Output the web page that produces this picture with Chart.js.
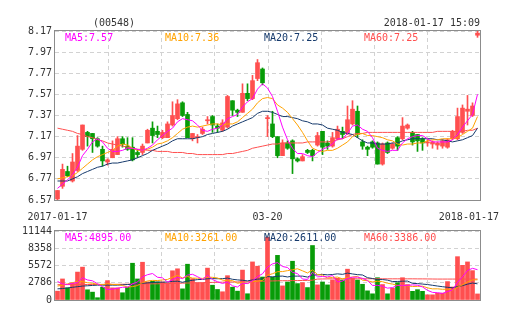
<!DOCTYPE html>
<html>
<head>
<meta charset="utf-8">
<script src="https://cdn.jsdelivr.net/npm/chart.js@4.4.1/dist/chart.umd.min.js"></script>
<style>
  html, body { margin: 0; padding: 0; background: #fff; }
  #wrap { position: relative; width: 505px; height: 330px; }
  canvas { position: absolute; left: 0; }
  #kline { top: 0; }
  #vol { top: 222px; }
</style>
</head>
<body>
<div id="wrap">
  <canvas id="kline" width="505" height="222"></canvas>
  <canvas id="vol" width="505" height="108"></canvas>
</div>
<script>
const stockCode = "(00548)";
const stampText = "2018-01-17 15:09";
const dateTicks = ["2017-01-17", "03-20", "2018-01-17"];
const dateTickIndex = [0, 42, 84];
const priceTicks = [6.57, 6.77, 6.97, 7.17, 7.37, 7.57, 7.77, 7.97, 8.17];
const volTicks = [0, 2786, 5572, 8358, 11144];

const opens = [
  6.58, 6.70, 6.84, 6.75, 6.85, 7.05, 7.21, 7.20, 7.15, 7.05,
  6.93, 6.97, 7.00, 7.15, 7.08, 7.07, 7.02, 7.02, 7.11, 7.25,
  7.22, 7.16, 7.16, 7.28, 7.34, 7.49, 7.38, 7.15, 7.16, 7.20,
  7.32, 7.36, 7.27, 7.23, 7.26, 7.51, 7.42, 7.40, 7.58, 7.53,
  7.72, 7.81, 7.34, 7.29, 7.17, 6.99, 7.11, 7.13, 6.96, 6.94,
  7.04, 7.04, 7.09, 7.22, 7.11, 7.08, 7.15, 7.22, 7.20, 7.29,
  7.41, 7.12, 7.07, 7.12, 7.11, 6.91, 7.11, 7.06, 7.16, 7.15,
  7.25, 7.21, 7.19, 7.15, 7.11, 7.10, 7.09, 7.08, 7.07, 7.15,
  7.15, 7.21, 7.41, 7.37, 8.13
];
const highs = [
  6.66, 6.91, 6.89, 7.01, 7.18, 7.28, 7.22, 7.20, 7.16, 7.08,
  6.96, 7.13, 7.17, 7.17, 7.16, 7.16, 7.05, 7.10, 7.24, 7.31,
  7.27, 7.23, 7.31, 7.50, 7.52, 7.50, 7.40, 7.20, 7.19, 7.26,
  7.36, 7.37, 7.29, 7.33, 7.56, 7.51, 7.43, 7.67, 7.67, 7.75,
  7.90, 7.82, 7.37, 7.41, 7.17, 7.14, 7.13, 7.14, 6.97, 7.00,
  7.05, 7.05, 7.21, 7.22, 7.13, 7.21, 7.27, 7.26, 7.46, 7.51,
  7.46, 7.14, 7.08, 7.13, 7.12, 7.11, 7.12, 7.11, 7.17, 7.35,
  7.29, 7.22, 7.19, 7.16, 7.14, 7.13, 7.12, 7.14, 7.15, 7.23,
  7.44, 7.47, 7.56, 7.49, 8.17
];
const lows = [
  6.57, 6.68, 6.79, 6.74, 6.84, 7.04, 7.08, 7.02, 7.07, 6.89,
  6.90, 6.97, 7.00, 7.07, 7.04, 6.94, 6.97, 7.00, 7.11, 7.11,
  7.16, 7.15, 7.16, 7.27, 7.33, 7.36, 7.16, 7.13, 7.11, 7.19,
  7.29, 7.21, 7.21, 7.22, 7.25, 7.37, 7.36, 7.40, 7.51, 7.52,
  7.70, 7.66, 7.17, 7.16, 6.97, 6.99, 7.05, 6.82, 6.93, 6.94,
  7.01, 6.94, 7.08, 7.00, 7.05, 7.07, 7.14, 7.15, 7.19, 7.28,
  7.16, 7.05, 6.99, 7.06, 6.91, 6.90, 7.01, 7.05, 7.04, 7.14,
  7.24, 7.09, 7.03, 7.04, 7.08, 7.06, 7.05, 7.06, 7.06, 7.14,
  7.14, 7.20, 7.28, 7.36, 8.11
];
const closes = [
  6.66, 6.86, 6.80, 6.93, 7.08, 7.28, 7.17, 7.15, 7.08, 6.94,
  6.95, 7.05, 7.15, 7.10, 7.05, 6.95, 7.00, 7.08, 7.23, 7.18,
  7.19, 7.21, 7.29, 7.37, 7.48, 7.37, 7.16, 7.20, 7.17, 7.24,
  7.33, 7.28, 7.25, 7.30, 7.55, 7.42, 7.40, 7.58, 7.53, 7.70,
  7.87, 7.68, 7.35, 7.17, 6.99, 7.11, 7.06, 6.96, 6.94, 6.98,
  7.02, 6.99, 7.18, 7.07, 7.08, 7.16, 7.24, 7.19, 7.33, 7.43,
  7.19, 7.08, 7.05, 7.07, 6.91, 7.10, 7.02, 7.10, 7.08, 7.27,
  7.28, 7.12, 7.13, 7.11, 7.12, 7.12, 7.11, 7.13, 7.14, 7.22,
  7.36, 7.44, 7.43, 7.46, 8.15
];

const ma5 = [
  6.68, 6.72, 6.76, 6.81, 6.88, 6.99, 7.05, 7.12, 7.15, 7.12,
  7.06, 7.03, 7.03, 7.04, 7.06, 7.06, 7.05, 7.04, 7.06, 7.09,
  7.14, 7.18, 7.22, 7.25, 7.31, 7.34, 7.33, 7.32, 7.28, 7.23,
  7.22, 7.24, 7.25, 7.28, 7.34, 7.36, 7.38, 7.45, 7.50, 7.53,
  7.62, 7.67, 7.63, 7.55, 7.41, 7.26, 7.14, 7.06, 7.01, 7.01,
  6.99, 6.98, 7.02, 7.05, 7.07, 7.10, 7.15, 7.15, 7.20, 7.27,
  7.28, 7.24, 7.22, 7.16, 7.06, 7.04, 7.03, 7.04, 7.04, 7.11,
  7.15, 7.17, 7.18, 7.18, 7.15, 7.12, 7.12, 7.12, 7.12, 7.14,
  7.19, 7.26, 7.32, 7.38, 7.57
];
const ma10 = [
  6.77, 6.78, 6.79, 6.80, 6.83, 6.87, 6.91, 6.95, 6.98, 7.00,
  7.02, 7.04, 7.08, 7.10, 7.09, 7.06, 7.04, 7.04, 7.05, 7.07,
  7.10, 7.11, 7.13, 7.16, 7.20, 7.24, 7.26, 7.27, 7.26, 7.27,
  7.28, 7.29, 7.29, 7.28, 7.29, 7.29, 7.31, 7.35, 7.39, 7.43,
  7.49, 7.53, 7.54, 7.53, 7.47, 7.44, 7.40, 7.34, 7.28, 7.21,
  7.13, 7.06, 7.04, 7.03, 7.04, 7.04, 7.06, 7.09, 7.12, 7.17,
  7.19, 7.20, 7.18, 7.18, 7.17, 7.16, 7.14, 7.13, 7.10, 7.09,
  7.10, 7.10, 7.11, 7.11, 7.13, 7.14, 7.14, 7.15, 7.15, 7.15,
  7.16, 7.19, 7.22, 7.25, 7.36
];
const ma20 = [
  6.75, 6.75, 6.75, 6.77, 6.79, 6.82, 6.84, 6.86, 6.88, 6.89,
  6.91, 6.92, 6.92, 6.93, 6.94, 6.95, 6.97, 6.99, 7.01, 7.04,
  7.06, 7.08, 7.10, 7.13, 7.15, 7.15, 7.15, 7.15, 7.16, 7.17,
  7.19, 7.20, 7.21, 7.22, 7.24, 7.27, 7.29, 7.31, 7.33, 7.35,
  7.39, 7.41, 7.41, 7.40, 7.38, 7.36, 7.36, 7.35, 7.34, 7.32,
  7.31, 7.29, 7.29, 7.28, 7.25, 7.24, 7.23, 7.21, 7.20, 7.19,
  7.16, 7.13, 7.11, 7.11, 7.10, 7.10, 7.10, 7.11, 7.11, 7.13,
  7.14, 7.15, 7.15, 7.15, 7.15, 7.15, 7.14, 7.14, 7.13, 7.12,
  7.13, 7.14, 7.16, 7.18, 7.25
];
const ma60 = [
  7.25, 7.24, 7.23, 7.22, 7.20, 7.19, 7.17, 7.16, 7.14, 7.13,
  7.11, 7.10, 7.09, 7.08, 7.07, 7.06, 7.05, 7.05, 7.04, 7.04,
  7.03, 7.03, 7.03, 7.02, 7.02, 7.02, 7.01, 7.01, 7.00, 7.00,
  7.00, 7.00, 7.00, 7.00, 7.01, 7.01, 7.02, 7.03, 7.04, 7.06,
  7.07, 7.08, 7.09, 7.10, 7.10, 7.11, 7.11, 7.11, 7.11, 7.11,
  7.12, 7.12, 7.12, 7.12, 7.12, 7.13, 7.14, 7.15, 7.17, 7.19,
  7.20, 7.20, 7.21, 7.21, 7.21, 7.21, 7.21, 7.21, 7.21, 7.21,
  7.21, 7.21, 7.21, 7.21, 7.21, 7.21, 7.22, 7.22, 7.22, 7.22,
  7.22, 7.22, 7.23, 7.23, 7.25
];

const volumes = [
  1430, 3400, 1960, 2760, 4510, 5310, 1650, 1270, 370, 2070,
  3130, 1960, 1960, 1170, 2070, 5940, 3400, 6100, 2920, 3020,
  2920, 2920, 2760, 4720, 5040, 1800, 5780, 3450, 2760, 2760,
  5150, 2390, 1700, 1330, 3930, 2070, 1430, 4830, 1010, 6150,
  5460, 3710, 10131, 3710, 7210, 2280, 2910, 6260, 2650, 2810,
  2010, 8800, 2440, 2910, 2440, 3230, 3500, 3230, 4980, 3500,
  3230, 2540, 1480, 1000, 3600, 2500, 1000, 1900, 2800, 3600,
  2500, 1400, 1670, 1400, 840, 840, 1110, 1110, 2975, 2100,
  7000, 5600, 6150, 4745, 980
];
const volMa5 = [
  3000, 2600, 2500, 2700, 2812, 3588, 3238, 3100, 2622, 2134,
  1698, 1760, 1898, 2058, 2058, 2620, 2908, 3736, 4086, 4276,
  3672, 3576, 2908, 3268, 3672, 3448, 4020, 4158, 3766, 3310,
  3980, 3302, 2952, 2666, 2900, 2284, 2092, 2718, 2654, 3098,
  3776, 4232, 5292, 5832, 6044, 5408, 5248, 4474, 4262, 3382,
  3328, 4506, 3742, 3794, 3720, 3964, 2904, 3062, 3476, 3688,
  3688, 3496, 3146, 2350, 2370, 2224, 1916, 2000, 2360, 2360,
  2360, 2440, 2394, 2114, 1562, 1230, 1172, 1060, 1375, 1627,
  2859, 3757, 4765, 5119, 4895
];
const volMa10 = [
  2250, 2400, 2600, 2800, 3000, 2950, 2800, 2700, 2550, 2473,
  2643, 2499, 2499, 2340, 2096, 2159, 2334, 2817, 3072, 3167,
  3146, 3242, 3322, 3677, 3974, 3560, 3798, 3533, 3517, 3491,
  3714, 3661, 3555, 3216, 3105, 3132, 2697, 2835, 2660, 2999,
  3030, 3162, 4005, 4243, 4571, 4592, 4740, 4883, 5047, 4713,
  4368, 4877, 4108, 4028, 3551, 3646, 3705, 3402, 3635, 3704,
  3826, 3200, 3104, 2913, 3029, 2956, 2706, 2573, 2355, 2365,
  2292, 2178, 2197, 2237, 1961, 1795, 1806, 1727, 1745, 1595,
  2045, 2465, 2913, 3247, 3261
];
const volMa20 = [
  1800, 1850, 1950, 2050, 2150, 2250, 2300, 2350, 2400, 2400,
  2400, 2400, 2400, 2450, 2500, 2550, 2600, 2700, 2760, 2820,
  2895, 2871, 2911, 3009, 3035, 2860, 3066, 3175, 3295, 3329,
  3430, 3452, 3439, 3447, 3540, 3346, 3248, 3184, 3089, 3245,
  3372, 3412, 3780, 3730, 3838, 3862, 3719, 3859, 3854, 3856,
  3699, 4020, 4057, 4136, 4061, 4119, 4223, 4143, 4341, 4209,
  4097, 4039, 3606, 3471, 3290, 3301, 3206, 2988, 2995, 3035,
  3059, 2689, 2651, 2575, 2495, 2376, 2256, 2150, 2050, 1980,
  2168, 2321, 2555, 2742, 2611
];
const volMa60 = [
  2480, 2480, 2490, 2490, 2500, 2500, 2500, 2510, 2510, 2520,
  2520, 2530, 2530, 2540, 2550, 2560, 2570, 2580, 2600, 2610,
  2620, 2640, 2660, 2680, 2700, 2720, 2740, 2760, 2780, 2800,
  2820, 2840, 2860, 2880, 2900, 2910, 2920, 2930, 2950, 2970,
  3000, 3030, 3060, 3080, 3100, 3110, 3120, 3130, 3140, 3150,
  3160, 3200, 3380, 3400, 3410, 3420, 3420, 3420, 3430, 3430,
  3430, 3430, 3430, 3430, 3430, 3430, 3420, 3420, 3420, 3420,
  3420, 3420, 3410, 3410, 3400, 3390, 3380, 3380, 3380, 3380,
  3380, 3380, 3385, 3385, 3386
];

const UP = "#ff4f4f";
const DOWN = "#089c08";
const C_MA5 = "#f0f";
const C_MA10 = "#ffa200";
const C_MA20 = "#163a6c";
const C_MA60 = "#ff4f4f";
const FONT = '10px "DejaVu Sans Mono"';
const TEXT = "#333";
const GRID = "#d2d2d2";

const labels = opens.map((_, i) => i);
const barColors = opens.map((o, i) => closes[i] >= o ? UP : DOWN);
const last = a => a[a.length - 1];

function maLine(data, color) {
  return { type: "line", data, borderColor: color, borderWidth: 1, pointRadius: 0, tension: 0, order: 0 };
}

// dashed column lines + frame + labels shared by both panels
function panelDecor(id, legend, extra) {
  return {
    id,
    beforeDatasetsDraw(chart) {
      const { ctx, chartArea: a } = chart;
      ctx.save();
      ctx.strokeStyle = GRID;
      ctx.lineWidth = 1;
      ctx.setLineDash([4, 3]);
      const step = (a.right - a.left) / 8;
      for (let k = 1; k < 8; k++) {
        const x = Math.round(a.left + k * step) + 0.5;
        ctx.beginPath();
        ctx.moveTo(x, a.top);
        ctx.lineTo(x, a.bottom);
        ctx.stroke();
      }
      ctx.restore();
    },
    afterDatasetsDraw(chart) {
      const { ctx, chartArea: a } = chart;
      ctx.save();
      ctx.strokeStyle = "#8c8c8c";
      ctx.lineWidth = 1;
      ctx.strokeRect(a.left - 0.5, a.top - 0.5, a.right - a.left + 1, a.bottom - a.top + 1);
      ctx.font = FONT;
      ctx.textBaseline = "alphabetic";
      ctx.textAlign = "left";
      const offs = [10, 110, 209, 309];
      legend.forEach((item, k) => {
        ctx.fillStyle = item.color;
        ctx.fillText(item.text, a.left + offs[k], a.top + 9.5);
      });
      if (extra) extra(chart);
      ctx.restore();
    }
  };
}

function yScale(min, max, ticks, fmt) {
  return {
    min, max,
    afterFit(scale) { scale.width = 55; },
    afterBuildTicks(scale) { scale.ticks = ticks.map(v => ({ value: v })); },
    grid: { color: GRID, drawTicks: false },
    border: { display: false, dash: [4, 3] },
    ticks: { padding: 3, color: TEXT, font: { family: "DejaVu Sans Mono", size: 10 }, callback: fmt }
  };
}

const baseOptions = {
  responsive: false,
  devicePixelRatio: 1,
  animation: false,
  plugins: { legend: { display: false }, tooltip: { enabled: false } }
};

// K线
new Chart(document.getElementById("kline"), {
  type: "bar",
  data: {
    labels,
    datasets: [
      maLine(ma5, C_MA5),
      maLine(ma10, C_MA10),
      maLine(ma20, C_MA20),
      maLine(ma60, C_MA60),
      { data: opens.map((o, i) => [o, closes[i]]), backgroundColor: barColors, barThickness: 4, grouped: false, order: 1 },
      { data: lows.map((l, i) => [l, highs[i]]), backgroundColor: barColors, barThickness: 1, grouped: false, order: 2 }
    ]
  },
  options: {
    ...baseOptions,
    layout: { padding: { top: 31, bottom: 22, left: 0, right: 25 } },
    scales: {
      x: { display: false },
      y: yScale(priceTicks[0], last(priceTicks), priceTicks, v => v.toFixed(2))
    }
  },
  plugins: [panelDecor("klineDecor", [
    { text: "MA5:" + last(ma5).toFixed(2), color: C_MA5 },
    { text: "MA10:" + last(ma10).toFixed(2), color: C_MA10 },
    { text: "MA20:" + last(ma20).toFixed(2), color: C_MA20 },
    { text: "MA60:" + last(ma60).toFixed(2), color: C_MA60 }
  ], chart => {
    const { ctx, chartArea: a, scales } = chart;
    ctx.fillStyle = TEXT;
    ctx.textAlign = "left";
    ctx.fillText(stockCode, 93, 26);
    ctx.textAlign = "right";
    ctx.fillText(stampText, a.right, 26);
    dateTicks.forEach((t, k) => {
      const w = ctx.measureText(t).width;
      let x = scales.x.getPixelForValue(dateTickIndex[k]) - w / 2;
      x = Math.min(x, chart.width - 6 - w);
      ctx.textAlign = "left";
      ctx.fillText(t, x, 220);
    });
  })]
});

// 成交量
new Chart(document.getElementById("vol"), {
  type: "bar",
  data: {
    labels,
    datasets: [
      maLine(volMa5, C_MA5),
      maLine(volMa10, C_MA10),
      maLine(volMa20, C_MA20),
      maLine(volMa60, C_MA60),
      { data: volumes, backgroundColor: barColors, barThickness: 4, grouped: false, order: 1 }
    ]
  },
  options: {
    ...baseOptions,
    layout: { padding: { top: 9, bottom: 30, left: 0, right: 25 } },
    scales: {
      x: { display: false },
      y: yScale(volTicks[0], last(volTicks), volTicks, v => String(v))
    }
  },
  plugins: [panelDecor("volDecor", [
    { text: "MA5:" + last(volMa5).toFixed(2), color: C_MA5 },
    { text: "MA10:" + last(volMa10).toFixed(2), color: C_MA10 },
    { text: "MA20:" + last(volMa20).toFixed(2), color: C_MA20 },
    { text: "MA60:" + last(volMa60).toFixed(2), color: C_MA60 }
  ])]
});
</script>
</body>
</html>
